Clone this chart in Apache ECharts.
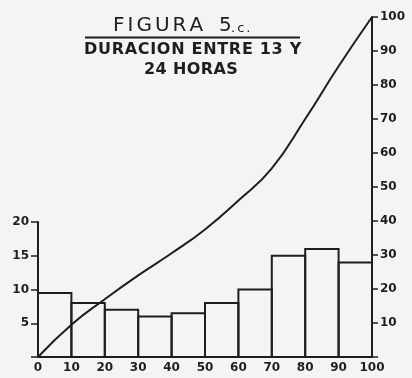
<!DOCTYPE html>
<html>
<head>
<meta charset="utf-8">
<script src="https://cdn.jsdelivr.net/npm/echarts@6/dist/echarts.min.js"></script>
<style>
  html, body { margin: 0; padding: 0; background: #f4f4f2; }
  #chart { width: 412px; height: 378px; }
</style>
</head>
<body>
<div id="chart"></div>
<script>
// Class boundaries (percent of duration) and histogram frequencies (left axis)
const binStarts = [0, 10, 20, 30, 40, 50, 60, 70, 80, 90];
const binEnds   = [10, 20, 30, 40, 50, 60, 70, 80, 90, 100];
const frequencies = [9.5, 8, 7, 6, 6.5, 8, 10, 15, 16, 14];
// Cumulative curve (right axis)
const cumX = [0, 10, 20, 30, 40, 50, 60, 70, 80, 90, 100];
const cumY = [0, 9.5, 17, 24, 30.5, 37.5, 46, 55.5, 70, 85.5, 100];
// Tick labels
const xTicks = [0, 10, 20, 30, 40, 50, 60, 70, 80, 90, 100];
const leftTicks = [5, 10, 15, 20];
const rightTicks = [10, 20, 30, 40, 50, 60, 70, 80, 90, 100];
const titleWord = 'FIGURA';
const titleNum = '5';
const titleSuffix = '.c.';
const subtitle1 = 'DURACION ENTRE 13 Y';
const subtitle2 = '24 HORAS';

const ink = '#1e1e1e';
const chart = echarts.init(document.getElementById('chart'), null, { renderer: 'canvas' });

const histData = binStarts.map((s, i) => [s, binEnds[i], frequencies[i]]);
const cumData = cumX.map((x, i) => [x, cumY[i]]);

// letter-spaced rich text helper
function spaced(str, key) {
  return str.split('').map(ch => '{' + key + '|' + ch + '}').join('');
}

const labelFont = { fontFamily: 'DejaVu Sans', fontSize: 12, color: ink, fontWeight: 'bold' };

chart.setOption({
  backgroundColor: '#f4f4f2',
  animation: false,
  grid: [
    { left: 38, right: 40, top: 17, bottom: 21 },
    { left: 38, right: 40, top: 222, bottom: 21 }
  ],
  xAxis: [
    { gridIndex: 0, type: 'value', min: 0, max: 100, show: false },
    {
      gridIndex: 1, type: 'value', min: 0, max: 100, interval: 10,
      axisLine: { show: true, onZero: false, lineStyle: { color: ink, width: 2 } },
      axisTick: { show: false },
      splitLine: { show: false },
      axisLabel: Object.assign({ margin: 5, formatter: v => xTicks.includes(v) ? String(v) : '' }, labelFont)
    }
  ],
  yAxis: [
    {
      gridIndex: 0, type: 'value', position: 'right', min: 0, max: 100, interval: 10,
      axisLine: { show: true, onZero: false, lineStyle: { color: ink, width: 2 } },
      axisTick: { show: true, length: 6, lineStyle: { color: ink, width: 1.5 } },
      splitLine: { show: false },
      axisLabel: Object.assign({ margin: 8, formatter: v => rightTicks.includes(v) ? String(v) : '' }, labelFont)
    },
    {
      gridIndex: 1, type: 'value', position: 'left', min: 0, max: 20, interval: 5,
      axisLine: { show: true, onZero: false, lineStyle: { color: ink, width: 2 } },
      axisTick: { show: true, length: 7, lineStyle: { color: ink, width: 1.5 } },
      splitLine: { show: false },
      axisLabel: Object.assign({ margin: 9, formatter: v => leftTicks.includes(v) ? String(v) : '' }, labelFont)
    }
  ],
  series: [
    {
      type: 'custom',
      xAxisIndex: 1, yAxisIndex: 1,
      data: histData,
      encode: { x: [0, 1], y: 2 },
      z: 2,
      renderItem: function (params, api) {
        const p0 = api.coord([api.value(0), api.value(2)]);
        const p1 = api.coord([api.value(1), 0]);
        return {
          type: 'rect',
          shape: { x: p0[0], y: p0[1], width: p1[0] - p0[0], height: p1[1] - p0[1] },
          style: { fill: 'rgba(0,0,0,0)', stroke: ink, lineWidth: 2 }
        };
      }
    },
    {
      type: 'line',
      xAxisIndex: 0, yAxisIndex: 0,
      data: cumData,
      smooth: 0.5,
      symbol: 'none',
      z: 5,
      lineStyle: { color: ink, width: 2 }
    }
  ],
  graphic: [
    {
      type: 'text', left: 113, top: 16,
      style: {
        text: spaced(titleWord, 'a'),
        rich: { a: { fontFamily: 'DejaVu Sans', fontSize: 20, fill: ink, padding: [0, 1.5, 0, 1.5] } }
      }
    },
    {
      type: 'text', left: 219, top: 16,
      style: { text: titleNum, fontFamily: 'DejaVu Sans', fontSize: 20, fill: ink }
    },
    {
      type: 'text', left: 231, top: 22,
      style: {
        text: spaced(titleSuffix, 'b'),
        rich: { b: { fontFamily: 'DejaVu Sans', fontSize: 13, fill: ink, padding: [0, 1, 0, 1] } }
      }
    },
    {
      type: 'line', shape: { x1: 85, y1: 37.5, x2: 300, y2: 37.5 },
      style: { stroke: ink, lineWidth: 2 }
    },
    {
      type: 'text', left: 84, top: 42,
      style: {
        text: spaced(subtitle1, 'c'),
        rich: { c: { fontFamily: 'DejaVu Sans', fontSize: 16, fontWeight: 'bold', fill: ink, padding: [0, 0.35, 0, 0.35] } }
      }
    },
    {
      type: 'text', left: 144, top: 62,
      style: {
        text: spaced(subtitle2, 'd'),
        rich: { d: { fontFamily: 'DejaVu Sans', fontSize: 16, fontWeight: 'bold', fill: ink, padding: [0, 0.2, 0, 0.2] } }
      }
    }
  ]
});
</script>
</body>
</html>
